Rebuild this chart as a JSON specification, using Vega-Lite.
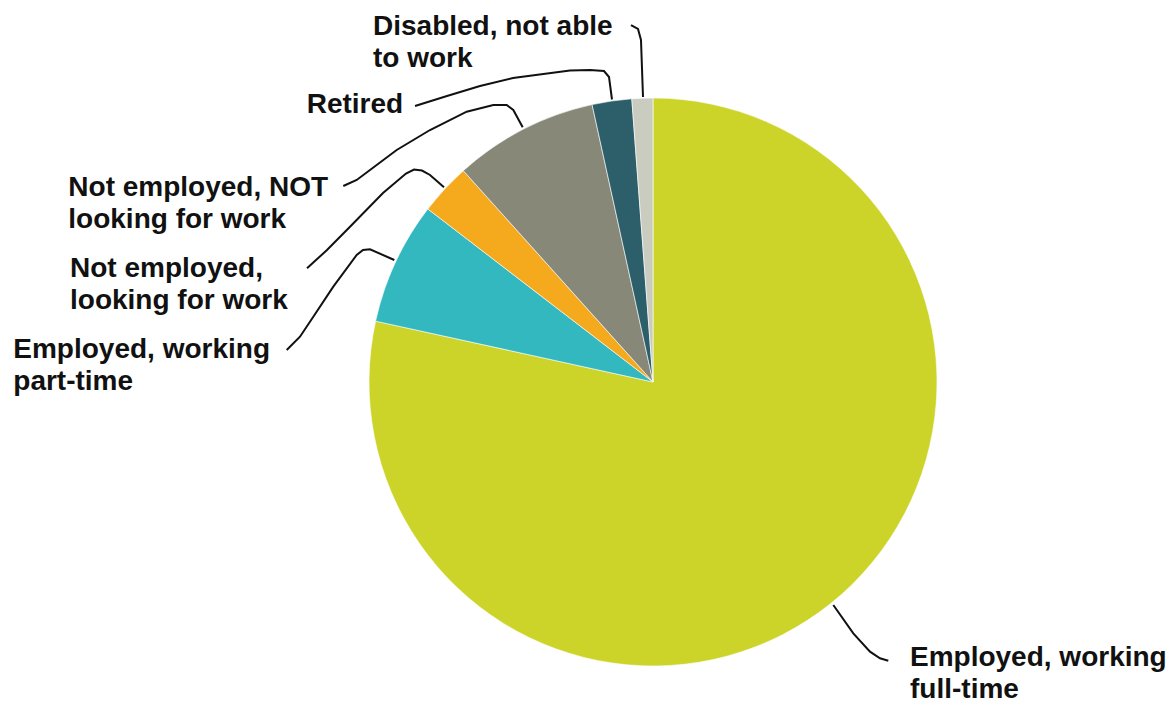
{
  "$schema": "https://vega.github.io/schema/vega-lite/v6.json",
  "width": 568,
  "height": 568,
  "autosize": {"type": "none"},
  "padding": {"left": 369, "top": 98, "right": 238, "bottom": 39},
  "background": "white",
  "config": {"view": {"stroke": null}},
  "layer": [
    {
      "data": {"values": [
        {"idx": 1, "status": "Employed, working full-time", "pct": 78.43},
        {"idx": 2, "status": "Employed, working part-time", "pct": 6.99},
        {"idx": 3, "status": "Not employed, looking for work", "pct": 2.93},
        {"idx": 4, "status": "Not employed, NOT looking for work", "pct": 8.20},
        {"idx": 5, "status": "Retired", "pct": 2.25},
        {"idx": 6, "status": "Disabled, not able to work", "pct": 1.19}
      ]},
      "mark": {"type": "arc", "outerRadius": 284, "stroke": "white", "strokeWidth": 0.6},
      "encoding": {
        "theta": {"field": "pct", "type": "quantitative", "stack": true},
        "order": {"field": "idx", "type": "quantitative"},
        "color": {
          "field": "status", "type": "nominal", "legend": null,
          "scale": {
            "domain": ["Employed, working full-time", "Employed, working part-time", "Not employed, looking for work", "Not employed, NOT looking for work", "Retired", "Disabled, not able to work"],
            "range": ["#CCD42A", "#34B8C0", "#F5AA1E", "#878878", "#2D5F6A", "#CBCCC0"]
          }
        }
      }
    },
    {
      "data": {"values": [
        {"line": "dis", "i": 1, "x": -3.52, "y": 100.35},
        {"line": "dis", "i": 2, "x": -4.23, "y": 120.42},
        {"line": "dis", "i": 3, "x": -5.28, "y": 124.30},
        {"line": "dis", "i": 4, "x": -7.75, "y": 125.70},
        {"line": "ret", "i": 1, "x": -14.44, "y": 99.47},
        {"line": "ret", "i": 2, "x": -15.49, "y": 107.39},
        {"line": "ret", "i": 3, "x": -17.25, "y": 109.51},
        {"line": "ret", "i": 4, "x": -22.18, "y": 109.86},
        {"line": "ret", "i": 5, "x": -29.23, "y": 109.68},
        {"line": "ret", "i": 6, "x": -49.30, "y": 107.04},
        {"line": "ret", "i": 7, "x": -60.92, "y": 104.23},
        {"line": "ret", "i": 8, "x": -72.54, "y": 100.70},
        {"line": "ret", "i": 9, "x": -83.80, "y": 97.18},
        {"line": "notl", "i": 1, "x": -45.88, "y": 89.68},
        {"line": "notl", "i": 2, "x": -49.19, "y": 95.77},
        {"line": "notl", "i": 3, "x": -51.51, "y": 97.54},
        {"line": "notl", "i": 4, "x": -56.23, "y": 97.54},
        {"line": "notl", "i": 5, "x": -65.60, "y": 95.18},
        {"line": "notl", "i": 6, "x": -78.52, "y": 88.73},
        {"line": "notl", "i": 7, "x": -90.25, "y": 81.69},
        {"line": "notl", "i": 8, "x": -99.65, "y": 74.65},
        {"line": "notl", "i": 9, "x": -104.33, "y": 71.13},
        {"line": "notl", "i": 10, "x": -109.05, "y": 69.01},
        {"line": "look", "i": 1, "x": -73.59, "y": 68.56},
        {"line": "look", "i": 2, "x": -78.52, "y": 72.89},
        {"line": "look", "i": 3, "x": -81.34, "y": 74.47},
        {"line": "look", "i": 4, "x": -84.15, "y": 74.82},
        {"line": "look", "i": 5, "x": -86.97, "y": 73.42},
        {"line": "look", "i": 6, "x": -95.07, "y": 66.55},
        {"line": "look", "i": 7, "x": -106.69, "y": 54.68},
        {"line": "look", "i": 8, "x": -114.79, "y": 46.48},
        {"line": "look", "i": 9, "x": -121.83, "y": 40.04},
        {"line": "pt", "i": 1, "x": -91.09, "y": 42.96},
        {"line": "pt", "i": 2, "x": -99.65, "y": 46.73},
        {"line": "pt", "i": 3, "x": -102.11, "y": 46.48},
        {"line": "pt", "i": 4, "x": -104.33, "y": 44.72},
        {"line": "pt", "i": 5, "x": -112.57, "y": 33.56},
        {"line": "pt", "i": 6, "x": -119.61, "y": 22.99},
        {"line": "pt", "i": 7, "x": -124.30, "y": 15.95},
        {"line": "pt", "i": 8, "x": -128.98, "y": 11.27},
        {"line": "ft", "i": 1, "x": 63.49, "y": -78.52},
        {"line": "ft", "i": 2, "x": 70.53, "y": -88.49},
        {"line": "ft", "i": 3, "x": 76.41, "y": -94.96},
        {"line": "ft", "i": 4, "x": 79.93, "y": -97.29},
        {"line": "ft", "i": 5, "x": 82.85, "y": -98.13}
      ]},
      "mark": {"type": "line", "color": "#111111", "strokeWidth": 2, "interpolate": "linear"},
      "encoding": {
        "x": {"field": "x", "type": "quantitative", "axis": null, "scale": {"domain": [-100, 100], "nice": false, "zero": false}},
        "y": {"field": "y", "type": "quantitative", "axis": null, "scale": {"domain": [-100, 100], "nice": false, "zero": false}},
        "detail": {"field": "line", "type": "nominal"},
        "order": {"field": "i", "type": "quantitative"}
      }
    },
    {
      "data": {"values": [
        {"label": "Disabled, not able\nto work", "x": -98.59, "y": 122.18},
        {"label": "Retired", "x": -121.94, "y": 94.61},
        {"label": "Not employed, NOT\nlooking for work", "x": -205.88, "y": 65.49},
        {"label": "Not employed,\nlooking for work", "x": -205.28, "y": 37.08},
        {"label": "Employed, working\npart-time", "x": -225.25, "y": 8.45},
        {"label": "Employed, working\nfull-time", "x": 90.49, "y": -100.0}
      ]},
      "mark": {"type": "text", "align": "left", "baseline": "alphabetic", "font": "Liberation Sans", "fontWeight": "bold", "fontSize": 28, "lineHeight": 32, "lineBreak": "\n", "color": "#111111"},
      "encoding": {
        "x": {"field": "x", "type": "quantitative"},
        "y": {"field": "y", "type": "quantitative"},
        "text": {"field": "label"}
      }
    }
  ]
}
